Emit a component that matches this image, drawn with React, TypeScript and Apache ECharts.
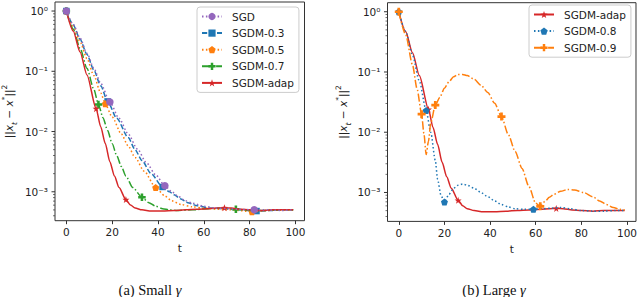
import React, { useEffect, useRef } from "react";
import * as echarts from "echarts";

// Each point: [t, log10(||x_t - x*||^2)]
type Pt = [number, number];

// ---------- (a) Small gamma ----------
const sgdA: Pt[] = [
  [0, 0], [3, -0.22], [6, -0.45], [9, -0.7], [12, -0.95], [15, -1.2], [19, -1.51],
  [23, -1.78], [27, -2.04], [31, -2.29], [35, -2.52], [39, -2.72], [43, -2.9],
  [46, -3.0], [49, -3.08], [52, -3.15], [55, -3.19], [60, -3.24], [65, -3.27],
  [70, -3.28], [75, -3.29], [82, -3.3], [88, -3.3], [94, -3.31], [99, -3.3],
];
const sgdm03A: Pt[] = [
  [0, 0], [3, -0.23], [6, -0.47], [9, -0.72], [12, -0.98], [15, -1.24], [18, -1.5],
  [22, -1.78], [27, -2.1], [30, -2.3], [33, -2.48], [37, -2.7], [42, -2.92],
  [45, -3.0], [47, -3.05], [50, -3.12], [53, -3.18], [57, -3.23], [62, -3.27],
  [68, -3.28], [75, -3.3], [83, -3.32], [90, -3.31], [95, -3.3], [99, -3.3],
];
const sgdm05A: Pt[] = [
  [0, 0], [3, -0.25], [6, -0.51], [9, -0.79], [12, -1.07], [15, -1.36], [17, -1.54],
  [20, -1.76], [24, -2.04], [27, -2.24], [30, -2.43], [34, -2.66], [39, -2.93],
  [43, -3.07], [46, -3.15], [50, -3.21], [55, -3.25], [60, -3.27], [66, -3.29],
  [72, -3.3], [81, -3.33], [88, -3.31], [94, -3.3], [99, -3.3],
];
const sgdm07A: Pt[] = [
  [0, 0], [3, -0.3], [6, -0.62], [9, -0.95], [12, -1.3], [14, -1.55], [16, -1.77],
  [18, -1.98], [20, -2.2], [22, -2.4], [24, -2.58], [26, -2.74], [29, -2.93],
  [33, -3.09], [36, -3.18], [39, -3.24], [42, -3.28], [45, -3.3], [48, -3.31],
  [55, -3.3], [62, -3.28], [68, -3.27], [74, -3.29], [80, -3.31], [87, -3.31],
  [93, -3.3], [99, -3.3],
];
// SGDM-adap (same run in both panels)
const sgdmAdap: Pt[] = [
  [0, 0], [3, -0.33], [6, -0.68], [9, -1.06], [13, -1.62], [15, -1.92], [17, -2.2],
  [19, -2.5], [21, -2.74], [23, -2.93], [26, -3.13], [28, -3.22], [30, -3.27],
  [33, -3.3], [37, -3.32], [42, -3.32], [47, -3.31], [52, -3.3], [57, -3.29],
  [62, -3.28], [66, -3.27], [69, -3.265], [72, -3.27], [76, -3.29], [80, -3.3],
  [85, -3.31], [90, -3.3], [95, -3.3], [99, -3.3],
];

// ---------- (b) Large gamma ----------
const sgdm08B: Pt[] = [
  [0, 0], [3, -0.33], [6, -0.72], [9, -1.15], [12, -1.64], [14, -2.0], [16, -2.47],
  [17, -2.78], [18.5, -3.05], [20, -3.16], [22, -3.03], [24, -2.93], [26, -2.88],
  [28, -2.86], [30, -2.88], [33, -2.93], [36, -3.0], [39, -3.07], [42, -3.14],
  [45, -3.2], [48, -3.24], [51, -3.27], [55, -3.28], [59, -3.28], [63, -3.27],
  [67, -3.26], [71, -3.25], [75, -3.27], [80, -3.3], [85, -3.31], [90, -3.31],
  [95, -3.3], [99, -3.3],
];
const sgdm09B: Pt[] = [
  [0, 0], [3, -0.38], [6, -0.88], [8, -1.28], [10, -1.7], [11, -2.02], [12, -2.37],
  [13, -2.15], [14, -1.85], [16, -1.55], [18, -1.42], [20, -1.27], [22, -1.16],
  [24, -1.08], [26, -1.04], [28, -1.04], [30, -1.06], [33, -1.12], [36, -1.22],
  [39, -1.34], [42, -1.52], [45, -1.74], [48, -2.04], [51, -2.32], [54, -2.6],
  [57, -2.9], [60, -3.18], [62, -3.23], [64, -3.15], [66, -3.08], [68, -3.03],
  [71, -2.98], [74, -2.95], [77, -2.96], [81, -3.0], [85, -3.07], [88, -3.14],
  [91, -3.2], [94, -3.25], [97, -3.28], [99, -3.29],
];

// marker positions (t values)
const marksSgdA = [0, 19, 43, 82];
const marks03A = [0, 18, 42, 83];
const marks05A = [0, 17, 39, 81];
const marks07A = [0, 14, 33, 74];
const marksAdap = [0, 13, 26, 69];
const marks08B = [0, 12, 20, 59];
const marks09B = [0, 10, 16, 45, 62];

const xTickValues = [0, 20, 40, 60, 80, 100];
const yMajorTicks = [1e-3, 1e-2, 1e-1, 1];
const yMinorTicks = [
  4e-4, 5e-4, 6e-4, 7e-4, 8e-4, 9e-4,
  2e-3, 3e-3, 4e-3, 5e-3, 6e-3, 7e-3, 8e-3, 9e-3,
  2e-2, 3e-2, 4e-2, 5e-2, 6e-2, 7e-2, 8e-2, 9e-2,
  2e-1, 3e-1, 4e-1, 5e-1, 6e-1, 7e-1, 8e-1, 9e-1,
];

const X_MIN = -4.95;
const X_MAX = 103.95;
const Y_MIN = Math.pow(10, -3.48);
const Y_MAX = Math.pow(10, 0.15);

const C = {
  blue: "#1f77b4",
  orange: "#ff7f0e",
  green: "#2ca02c",
  red: "#d62728",
  purple: "#9467bd",
};

const FONT = "DejaVu Sans";

function polyPath(n: number, rOut: number, rIn: number | null): string {
  const pts: string[] = [];
  const k = rIn == null ? n : n * 2;
  for (let i = 0; i < k; i++) {
    const r = rIn == null ? rOut : i % 2 === 0 ? rOut : rIn;
    const a = -Math.PI / 2 + (i * 2 * Math.PI) / k;
    pts.push(`${(10 + r * Math.cos(a)).toFixed(3)},${(10 + r * Math.sin(a)).toFixed(3)}`);
  }
  return "path://M" + pts.join("L") + "Z";
}
const STAR = polyPath(5, 10, 4);
const PENTA = polyPath(5, 10, null);
const PLUS = "path://M3.3,0H6.7V3.3H10V6.7H6.7V10H3.3V6.7H0V3.3H3.3Z";

const DOT = [1.5, 2.4];
const DASH = [5.2, 2.3];
const DASHDOT = [8, 2.3, 1.5, 2.3];

function sup(n: number): string {
  const m: Record<string, string> = {
    "-": "\u207b", "0": "\u2070", "1": "\u00b9", "2": "\u00b2", "3": "\u00b3",
    "4": "\u2074", "5": "\u2075",
  };
  return String(n).split("").map((c) => m[c] || c).join("");
}

function line(
  name: string, pts: Pt[], marks: number[], color: string, dash: any,
  symbol: string, size: number, idx: number, z: number
) {
  return {
    type: "line",
    name,
    xAxisIndex: idx,
    yAxisIndex: idx,
    z,
    data: pts.map(([t, e]) => ({
      value: [t, Math.pow(10, e)],
      symbol: marks.includes(t) ? symbol : "none",
    })),
    symbol,
    symbolSize: size,
    showSymbol: true,
    showAllSymbol: true,
    smooth: 0.25,
    smoothMonotone: "x",
    lineStyle: { color, width: 1.5, type: dash },
    itemStyle: { color, borderWidth: 0 },
    emphasis: { disabled: true },
    silent: true,
  };
}

function tickSeries(idx: number) {
  const data = [
    ...yMajorTicks.map((v) => [X_MIN, v, 3.5, 1]),
    ...yMinorTicks.map((v) => [X_MIN, v, 2, 0.7]),
  ];
  return {
    type: "custom",
    xAxisIndex: idx,
    yAxisIndex: idx,
    clip: false,
    silent: true,
    z: 1,
    data,
    renderItem: (_p: any, api: any) => {
      const p = api.coord([api.value(0), api.value(1)]);
      const len = api.value(2);
      return {
        type: "line",
        shape: { x1: p[0] - len, y1: p[1], x2: p[0], y2: p[1] },
        style: { stroke: "#333", lineWidth: api.value(3) },
      };
    },
  };
}

function xAxis(idx: number) {
  return {
    type: "value",
    gridIndex: idx,
    min: X_MIN,
    max: X_MAX,
    name: "t",
    nameLocation: "middle",
    nameGap: 20,
    nameTextStyle: { fontFamily: FONT, fontSize: 10.5, color: "#222" },
    axisLine: { show: false },
    splitLine: { show: false },
    axisTick: { show: true, length: 3.5, customValues: xTickValues, lineStyle: { color: "#333", width: 1 } },
    axisLabel: {
      customValues: xTickValues,
      margin: 6,
      fontFamily: FONT,
      fontSize: 10.5,
      color: "#222",
    },
  };
}

function yAxis(idx: number) {
  return {
    type: "log",
    logBase: 10,
    gridIndex: idx,
    min: Y_MIN,
    max: Y_MAX,
    axisLine: { show: false },
    splitLine: { show: false },
    axisTick: { show: false },
    axisLabel: {
      showMinLabel: false,
      showMaxLabel: false,
      margin: 7,
      fontFamily: FONT,
      fontSize: 10.5,
      color: "#222",
      formatter: (v: number) => "10" + sup(Math.round(Math.log10(v))),
    },
  };
}

function legend(idx: number, names: string[], left: number, top: number) {
  return {
    show: true,
    data: names,
    orient: "vertical",
    left,
    top,
    align: "left",
    itemWidth: 20,
    itemHeight: 9,
    itemGap: 3.6,
    padding: [3, 5, 3, 4],
    borderColor: "#cccccc",
    borderWidth: 1,
    borderRadius: 3,
    backgroundColor: "rgba(255,255,255,0.85)",
    selectedMode: false,
    textStyle: {
      fontFamily: FONT,
      fontSize: 10.5,
      color: "#222",
      lineHeight: 13,
      padding: [0, 0, 0, 5],
    },
    z: 10,
  };
}

const yLabelRich = {
  n: { fontFamily: FONT, fontSize: 10.5, lineHeight: 18, fill: "#222" },
  i: { fontFamily: FONT, fontSize: 10.5, fontStyle: "italic", lineHeight: 18, fill: "#222" },
  s: { fontFamily: FONT, fontSize: 7.5, fontStyle: "italic", lineHeight: 9, verticalAlign: "bottom", fill: "#222" },
  p: { fontFamily: FONT, fontSize: 7.5, lineHeight: 9, verticalAlign: "top", fill: "#222" },
};
const Y_LABEL = "{n|||}{i|x}{s|t}{n| \u2212 }{i|x}{p|*}{n|||}{p|2}";

const capRich = {
  r: { fontFamily: "Liberation Serif", fontSize: 14.5, fill: "#111" },
  g: { fontFamily: "Liberation Serif", fontSize: 14.5, fontStyle: "italic", fill: "#111" },
};

export default function App() {
  const ref = useRef<HTMLDivElement>(null);
  useEffect(() => {
    document.body.style.margin = "0";
    if (!ref.current) return;
    const chart = echarts.init(ref.current, null, { renderer: "svg" });
    chart.setOption({
      animation: false,
      backgroundColor: "#ffffff",
      grid: [
        { left: 55, top: 2, width: 249.5, height: 218.7, show: true, borderColor: "#333", borderWidth: 1, backgroundColor: "transparent" },
        { left: 387.5, top: 2.7, width: 249.5, height: 218.7, show: true, borderColor: "#333", borderWidth: 1, backgroundColor: "transparent" },
      ],
      xAxis: [xAxis(0), xAxis(1)],
      yAxis: [yAxis(0), yAxis(1)],
      legend: [
        legend(0, ["SGD", "SGDM-0.3", "SGDM-0.5", "SGDM-0.7", "SGDM-adap"], 197, 7),
        legend(1, ["SGDM-adap", "SGDM-0.8", "SGDM-0.9"], 529, 5),
      ],
      series: [
        line("SGD", sgdA, marksSgdA, C.purple, DOT, "circle", 7.5, 0, 8),
        line("SGDM-0.3", sgdm03A, marks03A, C.blue, DASH, "rect", 6.5, 0, 3),
        line("SGDM-0.5", sgdm05A, marks05A, C.orange, DOT, PENTA, 7, 0, 4),
        line("SGDM-0.7", sgdm07A, marks07A, C.green, DASHDOT, PLUS, 7.5, 0, 5),
        line("SGDM-adap", sgdmAdap, marksAdap, C.red, "solid", STAR, 7, 0, 6),
        line("SGDM-adap", sgdmAdap, marksAdap, C.red, "solid", STAR, 7, 1, 3),
        line("SGDM-0.8", sgdm08B, marks08B, C.blue, DOT, PENTA, 7, 1, 4),
        line("SGDM-0.9", sgdm09B, marks09B, C.orange, DASHDOT, PLUS, 8, 1, 5),
        tickSeries(0),
        tickSeries(1),
      ],
      graphic: [
        { type: "text", x: 9, y: 111.5, rotation: Math.PI / 2, style: { text: Y_LABEL, rich: yLabelRich, align: "center", verticalAlign: "middle" } },
        { type: "text", x: 343, y: 112, rotation: Math.PI / 2, style: { text: Y_LABEL, rich: yLabelRich, align: "center", verticalAlign: "middle" } },
        { type: "text", x: 150, y: 290, style: { text: "{r|(a) Small }{g|\u03b3}", rich: capRich, align: "center", verticalAlign: "middle" } },
        { type: "text", x: 494, y: 290, style: { text: "{r|(b) Large }{g|\u03b3}", rich: capRich, align: "center", verticalAlign: "middle" } },
      ],
    });
    return () => chart.dispose();
  }, []);
  return <div ref={ref} style={{ width: 640, height: 297 }} />;
}
